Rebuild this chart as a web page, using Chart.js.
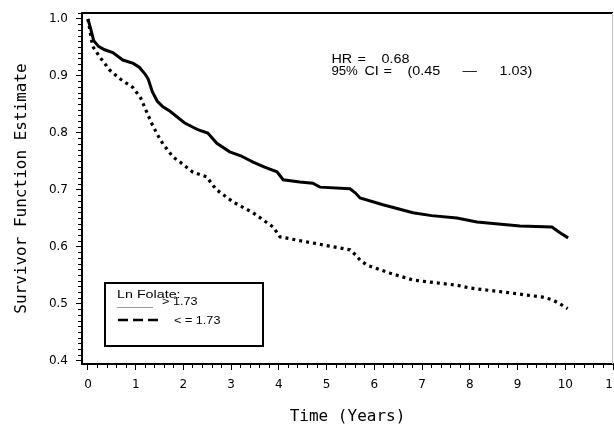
<!DOCTYPE html>
<html>
<head>
<meta charset="utf-8">
<script src="https://cdn.jsdelivr.net/npm/chart.js@4.4.1/dist/chart.umd.min.js"></script>
<style>
  html, body { margin: 0; padding: 0; background: #fff; }
</style>
</head>
<body>
<canvas id="kmChart" width="614" height="428"></canvas>
<script>
// Ln Folate > 1.73 (solid)
const highTime = [0, 0.05, 0.12, 0.22, 0.35, 0.52, 0.73, 0.95, 1.08, 1.2, 1.26, 1.35, 1.45, 1.57, 1.72,
  2.02, 2.2, 2.3, 2.51, 2.7, 2.97, 3.2, 3.46, 3.7, 3.96, 4.09, 4.44, 4.71, 4.86, 5.49, 5.6, 5.7,
  6.18, 6.81, 7.2, 7.73, 8.15, 9.05, 9.72, 9.89, 10.06];
const highSurv = [1.0, 0.985, 0.962, 0.952, 0.946, 0.941, 0.928, 0.922, 0.915, 0.903, 0.895, 0.872, 0.856, 0.846, 0.838,
  0.818, 0.81, 0.806, 0.8, 0.782, 0.767, 0.76, 0.749, 0.74, 0.732, 0.718, 0.714, 0.712, 0.705, 0.702, 0.695, 0.686,
  0.674, 0.66, 0.655, 0.651, 0.644, 0.637, 0.635, 0.625, 0.616];

// Ln Folate <= 1.73 (dotted)
const lowTime = [0, 0.05, 0.1, 0.25, 0.46, 0.67, 0.94, 1.1, 1.23, 1.35, 1.47, 1.57, 1.78, 1.93, 2.2,
  2.49, 2.6, 2.7, 3.04, 3.46, 3.88, 4.02, 4.38, 4.71, 5.49, 5.62, 5.7, 5.85, 6.33, 6.81, 7.3, 7.73,
  8.0, 8.7, 9.53, 9.74, 9.95, 10.05];
const lowSurv = [1.0, 0.975, 0.952, 0.933, 0.91, 0.895, 0.88, 0.862, 0.837, 0.814, 0.795, 0.781, 0.758, 0.749, 0.731,
  0.723, 0.71, 0.7, 0.679, 0.66, 0.635, 0.618, 0.612, 0.607, 0.595, 0.585, 0.577, 0.568, 0.554, 0.542, 0.537, 0.533,
  0.528, 0.521, 0.512, 0.507, 0.497, 0.492];

const xTickLabels = [0, 1, 2, 3, 4, 5, 6, 7, 8, 9, 10, 11];
const yTickLabels = [0.4, 0.5, 0.6, 0.7, 0.8, 0.9, 1.0];

const legendTitle = "Ln Folate:";
const legendLabels = ["> 1.73", "< = 1.73"];
const hrLine1 = ["HR", "=", "0.68"];
const hrLine2 = ["95%", "CI", "=", "(0.45", "\u2014", "1.03)"];

function toPoints(xs, ys) {
  return xs.map((x, i) => ({ x: x, y: ys[i] }));
}

function isMajor(v, list, digits) {
  const f = Math.pow(10, digits);
  const r = Math.round(v * f) / f;
  return Math.abs(v - r) < 1e-6 && list.some(t => Math.abs(t - r) < 1e-6);
}

// old plot font is wide: stretch text sideways
function wideText(ctx, text, x, y, sx) {
  ctx.save();
  ctx.translate(x, y);
  ctx.scale(sx, 1);
  ctx.fillText(text, 0, 0);
  ctx.restore();
}

// frame, HR note and legend box
const extrasPlugin = {
  id: 'extras',
  afterDraw(chart) {
    const { ctx, chartArea: a, scales } = chart;
    ctx.save();

    ctx.strokeStyle = '#000';
    ctx.lineWidth = 2;
    ctx.beginPath();
    ctx.moveTo(a.left - 1, a.top);
    ctx.lineTo(a.right, a.top);
    ctx.stroke();

    ctx.strokeStyle = '#c4c4c4';
    ctx.lineWidth = 1;
    ctx.beginPath();
    ctx.moveTo(a.right - 0.5, a.top);
    ctx.lineTo(a.right - 0.5, a.bottom);
    ctx.stroke();

    // HR text
    ctx.fillStyle = '#000';
    ctx.font = '12px "Liberation Sans", Arial, sans-serif';
    ctx.textBaseline = 'middle';
    ctx.textAlign = 'left';
    const hx = scales.x.getPixelForValue(5.1);
    const hy = scales.y.getPixelForValue(0.928);
    const pos1 = [0, 26, 50];
    const pos2 = [0, 33, 52, 76, 131, 168];
    hrLine1.forEach((t, i) => wideText(ctx, t, hx + pos1[i], hy, 1.2));
    hrLine2.forEach((t, i) => wideText(ctx, t, hx + pos2[i], hy + 11.5, i === 0 ? 1.1 : 1.2));

    // legend
    const lx = a.left + 23, ly = a.bottom - 81;
    ctx.lineWidth = 2;
    ctx.strokeStyle = '#000';
    ctx.strokeRect(lx, ly, 158, 63);
    ctx.font = '11px "Liberation Sans", Arial, sans-serif';
    wideText(ctx, legendTitle, lx + 12, ly + 11.5, 1.3);
    wideText(ctx, legendLabels[0], lx + 57, ly + 18.5, 1.15);
    wideText(ctx, legendLabels[1], lx + 69, ly + 38, 1.15);

    ctx.strokeStyle = '#9a9a9a';
    ctx.lineWidth = 1;
    ctx.beginPath();
    ctx.moveTo(lx + 12, ly + 24.5);
    ctx.lineTo(lx + 48, ly + 24.5);
    ctx.stroke();

    ctx.strokeStyle = '#000';
    ctx.lineWidth = 2.5;
    ctx.setLineDash([10, 5]);
    ctx.beginPath();
    ctx.moveTo(lx + 13, ly + 37);
    ctx.lineTo(lx + 54, ly + 37);
    ctx.stroke();
    ctx.restore();
  }
};

Chart.defaults.color = '#000';
Chart.defaults.font.family = '"DejaVu Sans", sans-serif';

const ctx = document.getElementById('kmChart').getContext('2d');

const kmChart = new Chart(ctx, {
  type: 'line',
  data: {
    datasets: [
      {
        label: '> 1.73',
        data: toPoints(highTime, highSurv),
        borderColor: '#000',
        borderWidth: 3,
        pointRadius: 0,
        tension: 0,
        fill: false
      },
      {
        label: '< = 1.73',
        data: toPoints(lowTime, lowSurv),
        borderColor: '#000',
        borderWidth: 3.2,
        borderDash: [3, 4],
        borderCapStyle: 'butt',
        pointRadius: 0,
        tension: 0,
        fill: false
      }
    ]
  },
  options: {
    responsive: false,
    animation: false,
    layout: { padding: { left: 0, top: 13, right: 1, bottom: 0 } },
    plugins: {
      legend: { display: false },
      tooltip: { enabled: false }
    },
    scales: {
      x: {
        type: 'linear',
        min: -0.125,
        max: 11,
        afterFit(scale) {
          scale.height = 64;
          scale.paddingLeft = 0;
          scale.paddingRight = 0;
        },
        border: { display: true, color: '#000', width: 2 },
        grid: {
          drawOnChartArea: false,
          drawTicks: true,
          tickLength: 6,
          tickColor: '#000',
          tickWidth: 1,
          tickBorderDash: (c) => (c.tick && isMajor(c.tick.value, xTickLabels, 0)) ? [] : [3, 20]
        },
        ticks: {
          stepSize: 0.2,
          maxTicksLimit: 1000,
          includeBounds: false,
          autoSkip: false,
          maxRotation: 0,
          padding: 8,
          font: { size: 12 },
          callback: (v) => isMajor(v, xTickLabels, 0) ? String(Math.round(v)) : ''
        },
        title: {
          display: true,
          text: 'Time (Years)',
          font: { family: '"DejaVu Sans Mono", monospace', size: 16 },
          padding: { top: 0, bottom: 2 }
        }
      },
      y: {
        type: 'linear',
        min: 0.3947,
        max: 1.0105,
        afterFit(scale) {
          scale.width = 82;
          scale.paddingTop = 0;
          scale.paddingBottom = 0;
        },
        border: { display: true, color: '#000', width: 2 },
        grid: {
          drawOnChartArea: false,
          drawTicks: true,
          tickLength: 6,
          tickColor: '#000',
          tickWidth: 1,
          tickBorderDash: (c) => (c.tick && isMajor(c.tick.value, yTickLabels, 1)) ? [] : [0, 2, 10, 10]
        },
        ticks: {
          stepSize: 0.01,
          maxTicksLimit: 1000,
          includeBounds: false,
          autoSkip: false,
          padding: 8,
          font: { size: 12 },
          callback: (v) => isMajor(v, yTickLabels, 1) ? (Math.round(v * 10) / 10).toFixed(1) : ''
        },
        title: {
          display: true,
          text: 'Survivor Function Estimate',
          font: { family: '"DejaVu Sans Mono", monospace', size: 16 },
          padding: { top: 12, bottom: 0 }
        }
      }
    }
  },
  plugins: [extrasPlugin]
});
</script>
</body>
</html>
